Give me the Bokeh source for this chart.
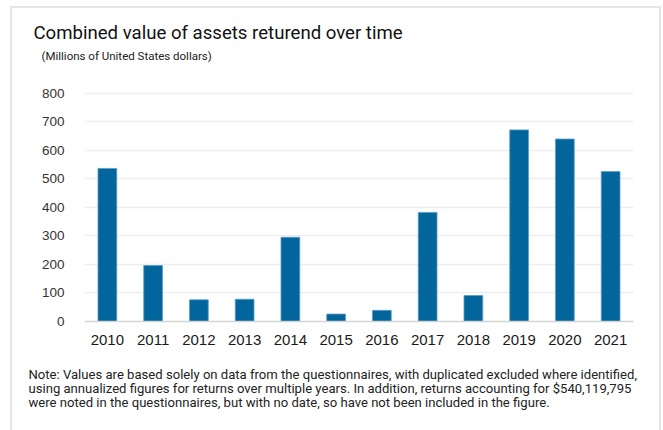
from bokeh.plotting import figure
from bokeh.models import Range1d, ColumnDataSource, Title
from bokeh.embed import file_html
from bokeh.resources import INLINE

years = ["2010", "2011", "2012", "2013", "2014", "2015", "2016", "2017", "2018", "2019", "2020", "2021"]
values = [536, 196, 76, 78, 295, 26, 39, 382, 91, 671, 639, 525]
y_ticks = [0, 100, 200, 300, 400, 500, 600, 700, 800]

title_text = "Combined value of assets returend over time"
subtitle_text = "(Millions of United States dollars)"
note_lines = [
    "Note: Values are based solely on data from the questionnaires, with duplicated excluded where identified,",
    "using annualized figures for returns over multiple years. In addition, returns accounting for $540,119,795",
    "were noted in the questionnaires, but with no date, so have not been included in the figure.",
]

W, H = 663, 430
Y_END = 900
FL, FR, FT, FB = 84, 633, 64, 321  # frame edges in page coords

frame_css = ("linear-gradient(#E6E6E6,#E6E6E6) 10px 6px / 651px 2px no-repeat, "
             "linear-gradient(#E6E6E6,#E6E6E6) 10px 6px / 2px 430px no-repeat, "
             "linear-gradient(#E6E6E6,#E6E6E6) 659px 6px / 2px 430px no-repeat, white")

p = figure(x_range=years, y_range=Range1d(0, Y_END), width=W, height=H,
           output_backend="svg", toolbar_location=None,
           min_border_left=FL, min_border_right=W - FR,
           min_border_top=FT, min_border_bottom=H - FB,
           styles={"background": frame_css})
p.outline_line_color = None
p.background_fill_color = None
p.border_fill_color = None

src = ColumnDataSource(dict(x=years, top=values))
p.vbar(x="x", top="top", width=0.41, source=src, fill_color="#02669C",
       line_color="#5A9CC8", line_width=0.8)

p.xgrid.grid_line_color = None
p.ygrid.grid_line_color = "#EDEDED"
p.ygrid.grid_line_width = 1.5
p.yaxis.ticker = y_ticks
p.yaxis.axis_line_color = None
p.yaxis.major_tick_line_color = None
p.yaxis.minor_tick_line_color = None
p.yaxis.major_label_text_font = "Liberation Sans"
p.yaxis.major_label_text_font_size = "13.5px"
p.yaxis.major_label_text_color = "#333333"
p.yaxis.major_label_standoff = 14

p.xaxis.axis_line_color = "#D4D4D4"
p.xaxis.axis_line_width = 1.5
p.xaxis.major_tick_line_color = None
p.xaxis.minor_tick_line_color = None
p.xaxis.major_label_text_font = "Liberation Sans"
p.xaxis.major_label_text_font_size = "15px"
p.xaxis.major_label_text_color = "#1a1a1a"
p.xaxis.major_label_standoff = 7

p.add_layout(Title(text=subtitle_text, align="left", offset=41 - FL, standoff=4,
                   text_font="Roboto", text_font_size="11.5px", text_font_style="normal",
                   text_color="#222222"), "above")
p.add_layout(Title(text=title_text, align="left", offset=33 - FL, standoff=2,
                   text_font="Roboto", text_font_size="18.6px", text_font_style="normal",
                   text_color="#111111"), "above")

p.add_layout(Title(text="\n".join(note_lines), align="left", offset=28 - FL, standoff=34,
                   text_font="Roboto", text_font_size="13.1px", text_font_style="normal",
                   text_line_height=0.96, text_color="#222222"), "below")

open("out.html", "w").write(file_html(p, INLINE))
